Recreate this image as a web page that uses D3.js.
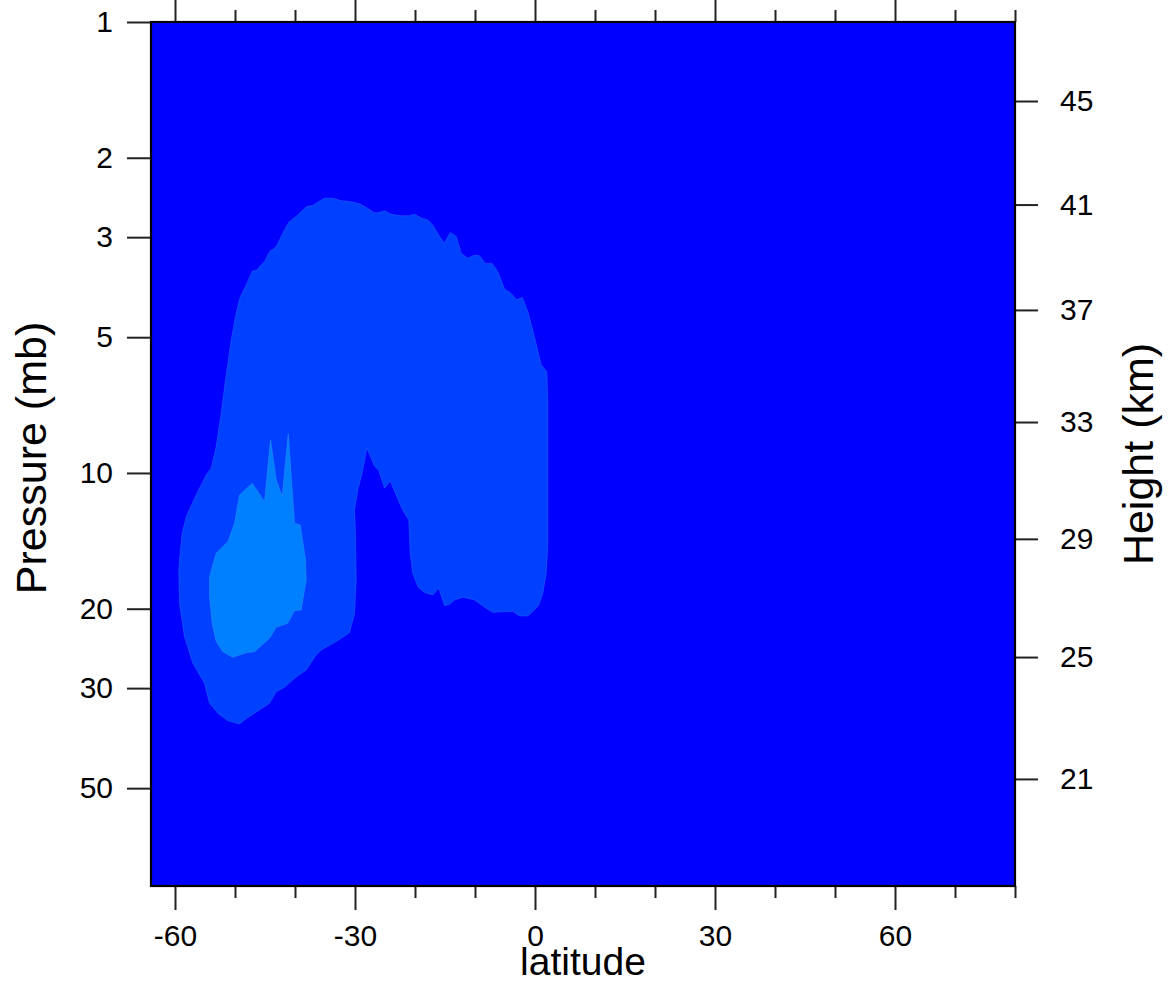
<!DOCTYPE html>
<html>
<head>
<meta charset="utf-8">
<script src="https://cdn.jsdelivr.net/npm/d3@7"></script>
<style>
  html, body { margin: 0; padding: 0; background: #ffffff; }
  svg { display: block; }
  text { font-family: "Liberation Sans", Arial, Helvetica, sans-serif; fill: #000; }
</style>
</head>
<body>
<svg id="chart" width="1170" height="986"></svg>
<script>
// ---------------- data ----------------
const latDomain = [-64, 80];
const presDomain = [1, 82.4];

const pressureTicks = [1, 2, 3, 5, 10, 20, 30, 50];
const latMajorTicks = [-60, -30, 0, 30, 60];
const latMinorTicks = [-50, -40, -20, -10, 10, 20, 40, 50, 70, 80];
const heightLabels = [45, 41, 37, 33, 29, 25, 21];
const heightPressures = [1.497, 2.54, 4.35, 7.71, 14.0, 25.6, 47.7];

const levelColors = ["#0000ff", "#0040ff", "#0080ff"];

// outer contour (level 2), latitude / pressure (mb)
const outerLat = [-49.25,-51.2,-52.87,-54.25,-55.08,-57.03,-58.42,-59.25,-59.37,-59.25,-58.8,-58.13,-56.47,-54.8,-53.97,-53.13,-52.3,-51.58,-50.63,-49.8,-49.13,-48.13,-47.13,-46.37,-45.92,-45.08,-44.25,-43.25,-42.87,-41.75,-41.03,-39.53,-38.13,-37.03,-36.03,-35.08,-33.7,-32.3,-30.92,-29.25,-27.87,-26.75,-26.2,-25.08,-23.97,-22.3,-20.92,-20.08,-18.97,-17.87,-17.03,-15.92,-15.08,-14.13,-13.13,-12.3,-11.2,-10.08,-9.25,-8.25,-7.13,-6.2,-5.08,-3.97,-3.03,-2.13,-1.2,-0.37,1.03,1.97,2.13,2.13,1.87,1.3,0.63,-0.37,-1.2,-2.58,-3.7,-5.08,-7.03,-8.13,-10.08,-12.03,-13.42,-14.25,-15.08,-16.03,-17.03,-18.42,-19.53,-20.37,-20.8,-21.03,-21.75,-22.3,-24.13,-25.08,-26.03,-26.75,-28.03,-28.7,-29.53,-30.08,-29.92,-29.8,-30.08,-30.92,-33.13,-35.63,-36.47,-38.13,-39.53,-40.37,-41.75,-43.13,-44.25,-45.92,-47.87];
const outerPres = [36.02,35.42,34.11,32.41,29.27,26.42,23.07,19.45,16.41,15.59,13.61,12.5,11.19,10.1,9.76,8.74,7.37,6.22,5.07,4.42,4.07,3.83,3.57,3.55,3.49,3.4,3.23,3.16,3.1,2.89,2.78,2.68,2.57,2.55,2.5,2.46,2.46,2.49,2.5,2.53,2.59,2.65,2.65,2.62,2.67,2.69,2.69,2.67,2.72,2.75,2.82,2.99,3.09,2.93,2.99,3.26,3.34,3.29,3.3,3.43,3.43,3.58,3.91,4.0,4.13,4.08,4.39,4.82,5.76,5.96,6.89,14.57,16.69,18.48,19.62,20.3,20.75,20.75,20.3,20.3,20.37,19.95,19.12,18.86,19.12,19.55,19.69,18.02,18.64,18.42,17.87,16.69,15.07,12.72,12.29,11.88,10.42,10.81,9.88,9.65,8.82,9.85,10.91,12.08,13.61,17.27,20.47,22.6,23.66,24.69,25.33,27.35,28.18,28.77,29.88,30.55,32.41,33.54,34.88];

// inner contour (level 3)
const innerLat = [-54.25,-53.13,-51.2,-50.08,-49.25,-47.13,-46.2,-45.08,-44.08,-43.13,-42.13,-41.13,-40.08,-39.13,-38.25,-38.13,-38.42,-38.97,-40.08,-41.2,-43.13,-44.25,-46.75,-48.13,-50.37,-52.03,-53.13,-53.8,-54.25];
const innerPres = [16.98,15.07,14.2,12.93,11.19,10.54,11.0,11.58,8.45,10.36,11.28,8.19,12.93,13.04,15.59,17.27,18.17,20.13,20.2,21.54,21.98,23.26,24.9,25.03,25.63,24.9,23.66,21.54,18.81];

// ---------------- layout ----------------
const X0 = 151, X1 = 1015, Y0 = 22, Y1 = 886;
const svg = d3.select("#chart");

const x = d3.scaleLinear().domain(latDomain).range([X0, X1]);
const y = d3.scaleLog().domain(presDomain).range([Y0, Y1]);

// background (lowest level)
svg.append("rect")
  .attr("x", X0).attr("y", Y0)
  .attr("width", X1 - X0).attr("height", Y1 - Y0)
  .attr("fill", levelColors[0]);

const clip = svg.append("clipPath").attr("id", "plotclip");
clip.append("rect").attr("x", X0).attr("y", Y0).attr("width", X1 - X0).attr("height", Y1 - Y0);

const line = d3.line().x(d => x(d[0])).y(d => y(d[1])).curve(d3.curveLinearClosed);
const outer = outerLat.map((v, i) => [v, outerPres[i]]);
const inner = innerLat.map((v, i) => [v, innerPres[i]]);

const g = svg.append("g").attr("clip-path", "url(#plotclip)");
g.append("path").attr("d", line(outer)).attr("fill", levelColors[1])
  .attr("stroke", "#2a5cff").attr("stroke-width", 0.6);
g.append("path").attr("d", line(inner)).attr("fill", levelColors[2])
  .attr("stroke", "#2a8cff").attr("stroke-width", 0.6);

// ---------------- axes ----------------
const tickColor = "#222";
const fontSize = 30;
const plainFmt = d => String(d);

function styleAxis(sel) {
  sel.select(".domain").remove();
  sel.selectAll(".tick line").attr("stroke", tickColor).attr("stroke-width", 2);
  sel.selectAll(".tick text").attr("font-size", fontSize).attr("fill", "#000")
    .attr("font-family", "'Liberation Sans', Arial, Helvetica, sans-serif");
}

// left pressure axis
svg.append("g").attr("transform", `translate(${X0},0)`)
  .call(d3.axisLeft(y).tickValues(pressureTicks).tickFormat(plainFmt).tickSize(24).tickPadding(14))
  .call(styleAxis);

// right height axis
svg.append("g").attr("transform", `translate(${X1},0)`)
  .call(d3.axisRight(y).tickValues(heightPressures).tickFormat((d, i) => String(heightLabels[i])).tickSize(23).tickPadding(22))
  .call(styleAxis);

// bottom latitude axis
svg.append("g").attr("transform", `translate(0,${Y1})`)
  .call(d3.axisBottom(x).tickValues(latMajorTicks).tickFormat(plainFmt).tickSize(24).tickPadding(15))
  .call(styleAxis);
svg.append("g").attr("transform", `translate(0,${Y1})`)
  .call(d3.axisBottom(x).tickValues(latMinorTicks).tickFormat("").tickSize(12))
  .call(styleAxis);

// top latitude axis (ticks only)
svg.append("g").attr("transform", `translate(0,${Y0})`)
  .call(d3.axisTop(x).tickValues(latMajorTicks).tickFormat("").tickSize(24))
  .call(styleAxis);
svg.append("g").attr("transform", `translate(0,${Y0})`)
  .call(d3.axisTop(x).tickValues(latMinorTicks).tickFormat("").tickSize(12))
  .call(styleAxis);

// frame
svg.append("rect")
  .attr("x", X0).attr("y", Y0)
  .attr("width", X1 - X0).attr("height", Y1 - Y0)
  .attr("fill", "none").attr("stroke", "#000").attr("stroke-width", 2.2);

// titles
svg.append("text")
  .attr("x", (X0 + X1) / 2).attr("y", 975)
  .attr("text-anchor", "middle").attr("font-size", 39)
  .text("latitude");

svg.append("text")
  .attr("transform", `translate(46,${458}) rotate(-90)`)
  .attr("text-anchor", "middle").attr("font-size", 43)
  .text("Pressure (mb)");

svg.append("text")
  .attr("transform", `translate(1153,${454}) rotate(-90)`)
  .attr("text-anchor", "middle").attr("font-size", 43)
  .text("Height (km)");
</script>
</body>
</html>
